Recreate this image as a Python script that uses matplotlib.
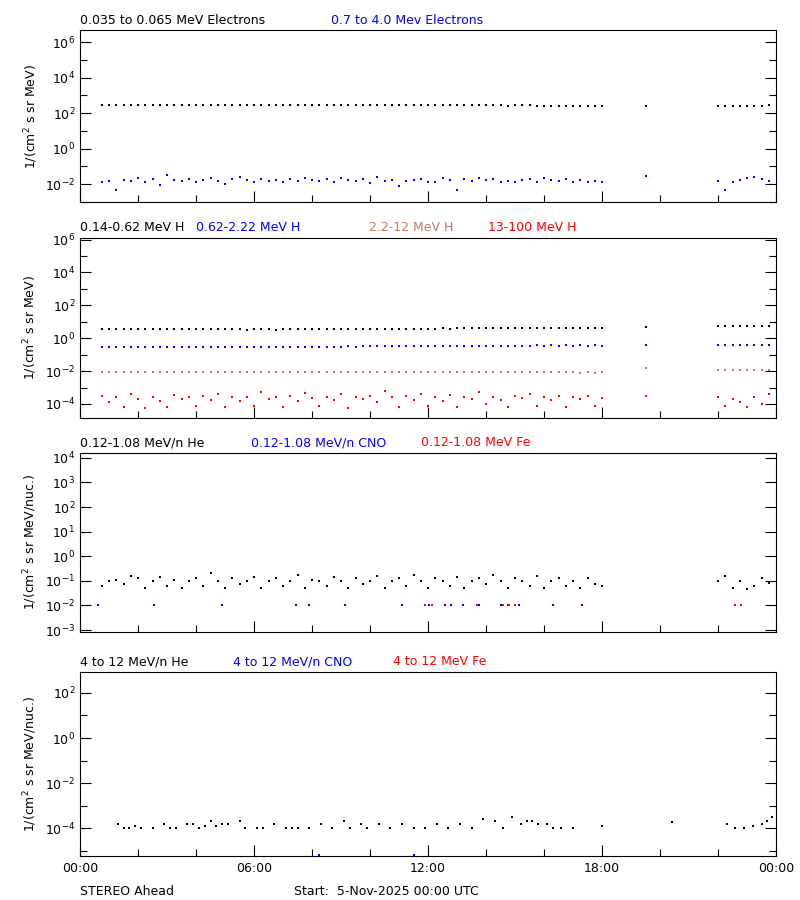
import numpy as np
import matplotlib.pyplot as plt
from matplotlib.ticker import FixedLocator, NullFormatter

# sample times (hours), 15 min cadence with data gaps
t_main = list(np.arange(0.75, 18.01, 0.25)) + [19.5] + list(np.arange(22.0, 23.8, 0.25))

# log10 fluxes
e_low = [2.46,2.45,2.46,2.45,2.46,2.47,2.46,2.45,2.46,2.47,2.46,2.46,2.47,2.46,2.46,2.47,2.46,2.47,2.46,2.46,
         2.47,2.46,2.46,2.47,2.46,2.46,2.47,2.46,2.46,2.46,2.46,2.46,2.47,2.46,2.46,2.46,2.45,2.44,2.46,2.45,
         2.46,2.46,2.45,2.46,2.45,2.46,2.46,2.45,2.46,2.45,2.46,2.46,2.45,2.44,2.45,2.44,2.43,2.44,2.45,2.44,
         2.43,2.42,2.43,2.42,2.41,2.42,2.41,2.42,2.41,2.41,
         2.43,
         2.42,2.41,2.42,2.41,2.43,2.42,2.43,2.44]
e_high = [-1.85,-1.8,-2.35,-1.75,-1.8,-1.65,-1.9,-1.7,-2.05,-1.5,-1.75,-1.8,-1.7,-1.85,-1.75,-1.65,-1.8,-2.0,-1.7,-1.6,
          -1.75,-1.9,-1.7,-1.8,-1.75,-1.85,-1.7,-1.8,-1.65,-1.75,-1.8,-1.7,-1.85,-1.65,-1.75,-1.8,-1.7,-1.95,-1.6,-1.8,
          -1.75,-2.1,-1.8,-1.75,-1.7,-1.85,-1.9,-1.65,-1.75,-2.35,-1.7,-1.8,-1.65,-1.75,-1.7,-1.85,-1.8,-1.9,-1.75,-1.7,
          -1.85,-1.65,-1.75,-1.8,-1.7,-1.85,-1.75,-1.9,-1.8,-1.85,
          -1.55,
          -1.8,-2.3,-1.9,-1.75,-1.65,-1.6,-1.7,-1.8]
h1 = [0.55,0.56,0.55,0.57,0.56,0.55,0.56,0.55,0.57,0.56,0.55,0.56,0.55,0.54,0.55,0.56,0.55,0.54,0.55,0.54,
      0.53,0.54,0.55,0.54,0.53,0.54,0.55,0.54,0.55,0.54,0.55,0.56,0.55,0.56,0.55,0.56,0.57,0.56,0.57,0.56,
      0.57,0.58,0.57,0.58,0.59,0.58,0.59,0.6,0.59,0.6,0.61,0.6,0.61,0.62,0.61,0.62,0.63,0.62,0.63,0.62,
      0.63,0.64,0.63,0.64,0.63,0.64,0.65,0.64,0.65,0.64,
      0.66,
      0.72,0.73,0.72,0.74,0.73,0.74,0.75,0.74]
h2 = [-0.55,-0.56,-0.55,-0.54,-0.56,-0.55,-0.54,-0.55,-0.56,-0.55,-0.54,-0.55,-0.54,-0.55,-0.56,-0.55,-0.54,-0.55,-0.54,-0.53,
      -0.54,-0.55,-0.54,-0.53,-0.54,-0.53,-0.54,-0.53,-0.52,-0.53,-0.52,-0.51,-0.52,-0.51,-0.5,-0.51,-0.5,-0.49,-0.5,-0.49,
      -0.48,-0.49,-0.48,-0.47,-0.48,-0.47,-0.48,-0.47,-0.46,-0.47,-0.46,-0.47,-0.46,-0.45,-0.46,-0.45,-0.46,-0.45,-0.46,-0.45,
      -0.44,-0.45,-0.44,-0.45,-0.44,-0.45,-0.44,-0.45,-0.44,-0.45,
      -0.43,
      -0.4,-0.41,-0.4,-0.41,-0.39,-0.4,-0.39,-0.4]
h3 = [-2.05,-2.06,-2.04,-2.05,-2.06,-2.05,-2.04,-2.05,-2.06,-2.05,-2.04,-2.05,-2.06,-2.05,-2.04,-2.05,-2.06,-2.04,-2.05,-2.06,
      -2.05,-2.04,-2.05,-2.06,-2.05,-2.04,-2.05,-2.06,-2.05,-2.04,-2.05,-2.06,-2.05,-2.04,-2.05,-2.04,-2.05,-2.04,-2.05,-2.04,
      -2.05,-2.04,-2.05,-2.06,-2.05,-2.04,-2.05,-2.06,-2.05,-2.04,-2.05,-2.04,-2.05,-2.06,-2.05,-2.06,-2.07,-2.06,-2.07,-2.06,
      -2.07,-2.08,-2.07,-2.08,-2.07,-2.08,-2.09,-2.08,-2.09,-2.08,
      -1.8,
      -1.95,-1.94,-1.93,-1.94,-1.93,-1.92,-1.93,-1.92]
h4 = [-3.5,-3.9,-3.6,-4.2,-3.4,-3.7,-4.25,-3.55,-3.8,-4.2,-3.45,-3.7,-3.6,-4.1,-3.5,-3.75,-3.4,-4.2,-3.6,-3.8,
      -3.55,-4.1,-3.3,-3.7,-3.6,-4.2,-3.5,-3.8,-3.35,-3.65,-4.1,-3.55,-3.75,-3.4,-4.25,-3.6,-3.7,-3.5,-3.9,-3.2,
      -3.6,-4.2,-3.5,-3.75,-3.4,-4.1,-3.6,-3.8,-3.45,-4.2,-3.55,-3.7,-3.3,-4.0,-3.6,-3.75,-4.2,-3.5,-3.65,-3.4,
      -4.1,-3.6,-3.75,-3.5,-4.2,-3.6,-3.7,-3.5,-4.1,-3.65,
      -3.5,
      -3.6,-4.1,-3.7,-3.9,-4.2,-3.6,-4.0,-3.4]

he_lo = [-1.2,-1.0,-0.95,-1.15,-0.8,-0.9,-1.3,-1.0,-0.85,-1.2,-0.95,-1.3,-1.0,-0.9,-1.2,-0.7,-1.0,-1.3,-0.9,-1.15,
         -1.0,-0.85,-1.3,-1.0,-0.9,-1.2,-1.0,-0.75,-1.3,-0.95,-1.0,-1.2,-0.85,-1.0,-1.3,-0.9,-1.15,-1.0,-0.8,-1.3,
         -1.0,-0.9,-1.2,-0.75,-1.0,-1.3,-0.9,-1.0,-1.2,-0.85,-1.3,-1.0,-0.9,-1.15,-0.75,-1.0,-1.3,-0.9,-1.0,-1.2,
         -0.8,-1.3,-1.0,-0.9,-1.2,-1.0,-1.3,-0.9,-1.15,-1.2,
         np.nan,
         -1.0,-0.8,-1.3,-1.0,-1.35,-1.2,-0.9,-1.1]
cno_lo_t = [0.63, 2.55, 4.9, 7.45, 7.9, 9.15, 11.1, 12.05, 12.6, 12.8, 13.2, 13.75, 14.5, 14.75, 15.15, 16.3, 17.3]
cno_lo = [-2.0] * len(cno_lo_t)
fe_lo_t = [11.9, 12.15, 13.7, 14.6, 14.8, 15.0, 22.6, 22.8]
fe_lo = [-2.0] * len(fe_lo_t)

he_hi_t = [1.3, 1.5, 1.7, 1.9, 2.1, 2.5, 2.9, 3.1, 3.3, 3.7, 3.9, 4.1, 4.3, 4.5, 4.7, 4.9, 5.1, 5.5, 5.7, 6.1, 6.3,
           6.7, 7.1, 7.3, 7.5, 7.9, 8.3, 8.7, 9.1, 9.3, 9.7, 9.9, 10.3, 10.7, 11.1, 11.5, 11.9, 12.3, 12.7, 13.1,
           13.5, 13.9, 14.3, 14.6, 14.9, 15.2, 15.4, 15.6, 15.8, 16.1, 16.3, 16.6, 17.0, 18.0, 20.4, 22.3, 22.6,
           22.9, 23.2, 23.5, 23.7, 23.85]
he_hi = [-3.8, -4.0, -4.0, -3.9, -4.0, -4.0, -3.8, -4.0, -4.0, -3.8, -3.8, -4.0, -3.9, -3.7, -3.9, -3.8, -3.8, -3.7,
         -4.0, -4.0, -4.0, -3.8, -4.0, -4.0, -4.0, -4.0, -3.8, -4.0, -3.7, -4.0, -3.8, -4.0, -3.8, -4.0, -3.8, -4.0,
         -4.0, -3.8, -4.0, -3.8, -4.0, -3.6, -3.7, -4.0, -3.5, -3.8, -3.7, -3.7, -3.8, -3.8, -4.0, -4.0, -4.0,
         -3.9, -3.75, -3.8, -4.0, -4.0, -3.9, -3.8, -3.7, -3.5]
cno_hi_t = [8.25, 11.5]
cno_hi = [-5.2, -5.2]

brown = '#c8785f'
plt.rcParams['font.family'] = 'DejaVu Sans'
plt.rcParams['font.size'] = 9
fig = plt.figure(figsize=(8, 9), dpi=100)

boxes = [[0.1, 0.7756, 0.87, 0.191], [0.1, 0.5356, 0.87, 0.2],
         [0.1, 0.2978, 0.87, 0.199], [0.1, 0.0489, 0.87, 0.2044]]
ylims = [(10**-3.0, 10**6.68), (10**-4.85, 10**6.1), (10**-3.08, 10**4.2), (10**-5.24, 10**2.93)]
majors = [[-2, 0, 2, 4, 6], [-4, -2, 0, 2, 4, 6], [-3, -2, -1, 0, 1, 2, 3, 4], [-4, -2, 0, 2]]
minors = [[-3, -1, 1, 3, 5], [-5, -3, -1, 1, 3, 5], [], [-5, -3, -1, 1]]
ylabels = ['1/(cm$^2$ s sr MeV)', '1/(cm$^2$ s sr MeV)',
           '1/(cm$^2$ s sr MeV/nuc.)', '1/(cm$^2$ s sr MeV/nuc.)']
titles = [[('0.035 to 0.065 MeV Electrons', 'black'), ('0.7 to 4.0 Mev Electrons', 'blue')],
          [('0.14-0.62 MeV H', 'black'), ('0.62-2.22 MeV H', 'blue'), ('2.2-12 MeV H', brown), ('13-100 MeV H', 'red')],
          [('0.12-1.08 MeV/n He', 'black'), ('0.12-1.08 MeV/n CNO', 'blue'), ('0.12-1.08 MeV Fe', 'red')],
          [('4 to 12 MeV/n He', 'black'), ('4 to 12 MeV/n CNO', 'blue'), ('4 to 12 MeV Fe', 'red')]]
title_x = [[0.0, 0.36], [0.0, 0.167, 0.415, 0.586], [0.0, 0.245, 0.49], [0.0, 0.22, 0.45]]

series = [[(t_main, e_low, 'black'), (t_main, e_high, 'blue')],
          [(t_main, h1, 'black'), (t_main, h2, 'blue'), (t_main, h3, brown), (t_main, h4, 'red')],
          [(t_main, he_lo, 'black'), (cno_lo_t, cno_lo, 'blue'), (fe_lo_t, fe_lo, 'red')],
          [(he_hi_t, he_hi, 'black'), (cno_hi_t, cno_hi, 'blue')]]

for i in range(4):
    ax = fig.add_axes(boxes[i])
    for tt, vv, c in series[i]:
        ax.plot(tt, 10.0 ** np.array(vv, dtype=float), 's', color=c, ms=1.6, mew=0, ls='none')
    ax.set_yscale('log')
    ax.set_ylim(*ylims[i])
    ax.set_xlim(0, 24)
    ax.yaxis.set_major_locator(FixedLocator([10.0 ** k for k in majors[i]]))
    ax.yaxis.set_minor_locator(FixedLocator([10.0 ** k for k in minors[i]]))
    ax.yaxis.set_minor_formatter(NullFormatter())
    ax.set_yticklabels(['10$^{%d}$' % k for k in majors[i]])
    ax.xaxis.set_major_locator(FixedLocator([0, 6, 12, 18, 24]))
    ax.xaxis.set_minor_locator(FixedLocator([2, 4, 8, 10, 14, 16, 20, 22]))
    ax.tick_params(which='both', direction='in', top=False, right=True)
    ax.tick_params(which='major', length=8, width=0.8)
    ax.tick_params(which='minor', length=5, width=0.8)
    if i < 3:
        ax.set_xticklabels([])
    else:
        ax.set_xticklabels(['00:00', '06:00', '12:00', '18:00', '00:00'])
        ax.tick_params(axis='x', pad=4)
    ax.set_ylabel(ylabels[i], labelpad=4)
    for (txt, c), x in zip(titles[i], title_x[i]):
        ax.text(x, 1.02, txt, color=c, transform=ax.transAxes, ha='left', va='bottom')

fig.text(0.1, 0.006, 'STEREO Ahead', ha='left')
fig.text(0.367, 0.006, 'Start:  5-Nov-2025 00:00 UTC', ha='left')
fig.savefig('out.png', dpi=100, facecolor='white')
